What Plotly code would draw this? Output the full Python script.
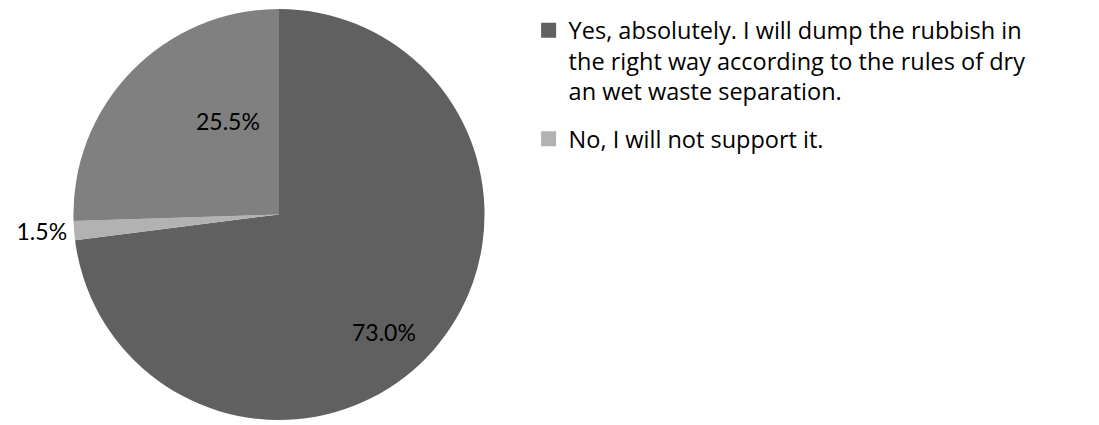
import plotly.graph_objects as go

labels = ["Yes, absolutely. I will dump the rubbish in<br>the right way according to the rules of dry<br>an wet waste separation.",
          "No, I will not support it.",
          "Other"]
values = [73.0, 1.5, 25.5]
colors = ["#606060", "#b2b2b2", "#808080"]
in_legend = [True, True, False]
# label text positions (paper coords) for the two big slices; small slice uses outside text
label_xy = {0: (0.3494, 0.1718), 2: (0.1765, 0.7506)}

FONT = "Lato"
LEG_FONT = "Open Sans"
total = sum(values)

fig = go.Figure()
fig.add_trace(go.Pie(
    labels=labels, values=values, sort=False, direction="clockwise", rotation=0,
    marker=dict(colors=colors, line=dict(width=0)),
    texttemplate=["" if i in label_xy else "%{percent:.1%}" for i in range(len(values))],
    textposition=["inside" if i in label_xy else "outside" for i in range(len(values))],
    textfont=dict(family=FONT, size=23, color="#000000"),
    showlegend=False, hoverinfo="label+percent",
    domain=dict(x=[0.0646, 0.4431], y=[0.0, 0.9788]),
))
for i, (xp, yp) in label_xy.items():
    fig.add_annotation(x=xp, y=yp, xref="paper", yref="paper", showarrow=False,
                       text=f"{values[i] / total * 100:.1f}%",
                       font=dict(family=FONT, size=23, color="#000000"))
for i, (lab, col) in enumerate(zip(labels, colors)):
    if in_legend[i]:
        fig.add_trace(go.Scatter(x=[None], y=[None], mode="markers", name=lab,
                                 legendgroup=f"g{i}",
                                 marker=dict(symbol="square", size=15, color=col)))

fig.update_layout(
    width=1099, height=425, margin=dict(l=0, r=0, t=0, b=0),
    paper_bgcolor="white", plot_bgcolor="white",
    xaxis=dict(visible=False), yaxis=dict(visible=False),
    legend=dict(x=0.481, y=0.98, xanchor="left", yanchor="top",
                font=dict(family=LEG_FONT, size=23.5, color="#000000"),
                traceorder="grouped", tracegroupgap=14, itemwidth=30, valign="top"),
    font=dict(family=FONT),
)
fig.write_html("out.html")
